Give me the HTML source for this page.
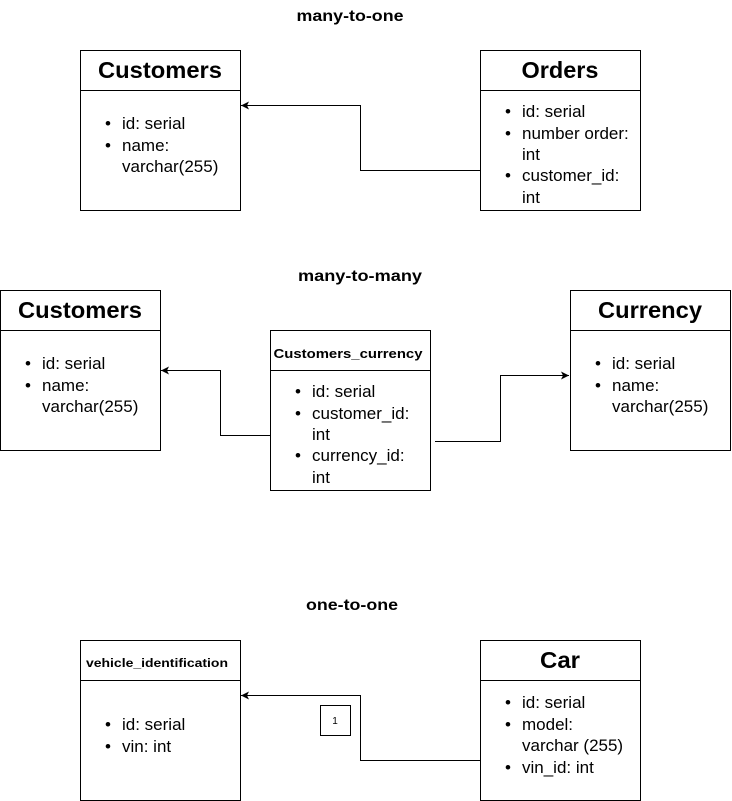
<!DOCTYPE html>
<html><head><style>body{margin:0;background:#fff}svg{display:block}text{font-family:"Liberation Sans",Arial,sans-serif;fill:#000}</style></head><body>
<svg width="732" height="801" viewBox="0 0 732 801" xmlns="http://www.w3.org/2000/svg">
<defs><marker id="a" markerWidth="10" markerHeight="10" refX="9" refY="5" orient="auto" markerUnits="userSpaceOnUse"><path d="M1,1 L9,5 L1,9 L3,5 Z" fill="#000"/></marker></defs>
<g font-weight="bold" font-size="16" text-anchor="middle">
<text x="350" y="21" textLength="107" lengthAdjust="spacingAndGlyphs">many-to-one</text>
<text x="360" y="281" textLength="124" lengthAdjust="spacingAndGlyphs">many-to-many</text>
<text x="352" y="610" textLength="92" lengthAdjust="spacingAndGlyphs">one-to-one</text>
</g>
<g fill="none" stroke="#000" stroke-width="1">
<rect x="80.5" y="50.5" width="160" height="160"/><line x1="80" y1="90.5" x2="240" y2="90.5"/>
<rect x="480.5" y="50.5" width="160" height="160"/><line x1="480" y1="90.5" x2="640" y2="90.5"/>
<rect x="0.5" y="290.5" width="160" height="160"/><line x1="0" y1="330.5" x2="160" y2="330.5"/>
<rect x="270.5" y="330.5" width="160" height="160"/><line x1="270" y1="370.5" x2="430" y2="370.5"/>
<rect x="570.5" y="290.5" width="160" height="160"/><line x1="570" y1="330.5" x2="730" y2="330.5"/>
<rect x="80.5" y="640.5" width="160" height="160"/><line x1="80" y1="680.5" x2="240" y2="680.5"/>
<rect x="480.5" y="640.5" width="160" height="160"/><line x1="480" y1="680.5" x2="640" y2="680.5"/>
<rect x="320.5" y="705.5" width="30" height="30"/>
<polyline points="480,170.5 360.5,170.5 360.5,105.5 241,105.5" marker-end="url(#a)"/>
<polyline points="270,435.5 220.5,435.5 220.5,370.5 161,370.5" marker-end="url(#a)"/>
<polyline points="435,441.5 500.5,441.5 500.5,375.5 569,375.5" marker-end="url(#a)"/>
<polyline points="480,760.5 360.5,760.5 360.5,695.5 241,695.5" marker-end="url(#a)"/>
</g>
<g font-weight="bold" text-anchor="middle">
<text x="160" y="78" font-size="23" textLength="124" lengthAdjust="spacingAndGlyphs">Customers</text>
<text x="560" y="78" font-size="23" textLength="77" lengthAdjust="spacingAndGlyphs">Orders</text>
<text x="80" y="318" font-size="23" textLength="124" lengthAdjust="spacingAndGlyphs">Customers</text>
<text x="348" y="358" font-size="13" textLength="149" lengthAdjust="spacingAndGlyphs">Customers_currency</text>
<text x="157" y="667" font-size="12" textLength="142" lengthAdjust="spacingAndGlyphs">vehicle_identification</text>
<text x="650" y="318" font-size="23" textLength="104" lengthAdjust="spacingAndGlyphs">Currency</text>
<text x="560" y="668" font-size="23" textLength="40" lengthAdjust="spacingAndGlyphs">Car</text>
</g>
<text x="335" y="724" font-size="10" text-anchor="middle">1</text>
<g font-size="17">
<text x="105" y="129">•</text><text x="122" y="129">id: serial</text>
<text x="105" y="151">•</text><text x="122" y="151">name:</text><text x="122" y="172">varchar(255)</text>
<text x="505" y="117">•</text><text x="522" y="117">id: serial</text>
<text x="505" y="139">•</text><text x="522" y="139">number order:</text><text x="522" y="160">int</text>
<text x="505" y="181">•</text><text x="522" y="181">customer_id:</text><text x="522" y="203">int</text>
<text x="25" y="369">•</text><text x="42" y="369">id: serial</text>
<text x="25" y="391">•</text><text x="42" y="391">name:</text><text x="42" y="412">varchar(255)</text>
<text x="295" y="397">•</text><text x="312" y="397">id: serial</text>
<text x="295" y="419">•</text><text x="312" y="419">customer_id:</text><text x="312" y="440">int</text>
<text x="295" y="461">•</text><text x="312" y="461">currency_id:</text><text x="312" y="483">int</text>
<text x="595" y="369">•</text><text x="612" y="369">id: serial</text>
<text x="595" y="391">•</text><text x="612" y="391">name:</text><text x="612" y="412">varchar(255)</text>
<text x="105" y="730">•</text><text x="122" y="730">id: serial</text>
<text x="105" y="752">•</text><text x="122" y="752">vin: int</text>
<text x="505" y="708">•</text><text x="522" y="708">id: serial</text>
<text x="505" y="730">•</text><text x="522" y="730">model:</text><text x="522" y="751">varchar (255)</text>
<text x="505" y="773">•</text><text x="522" y="773">vin_id: int</text>
</g>
</svg>
</body></html>
